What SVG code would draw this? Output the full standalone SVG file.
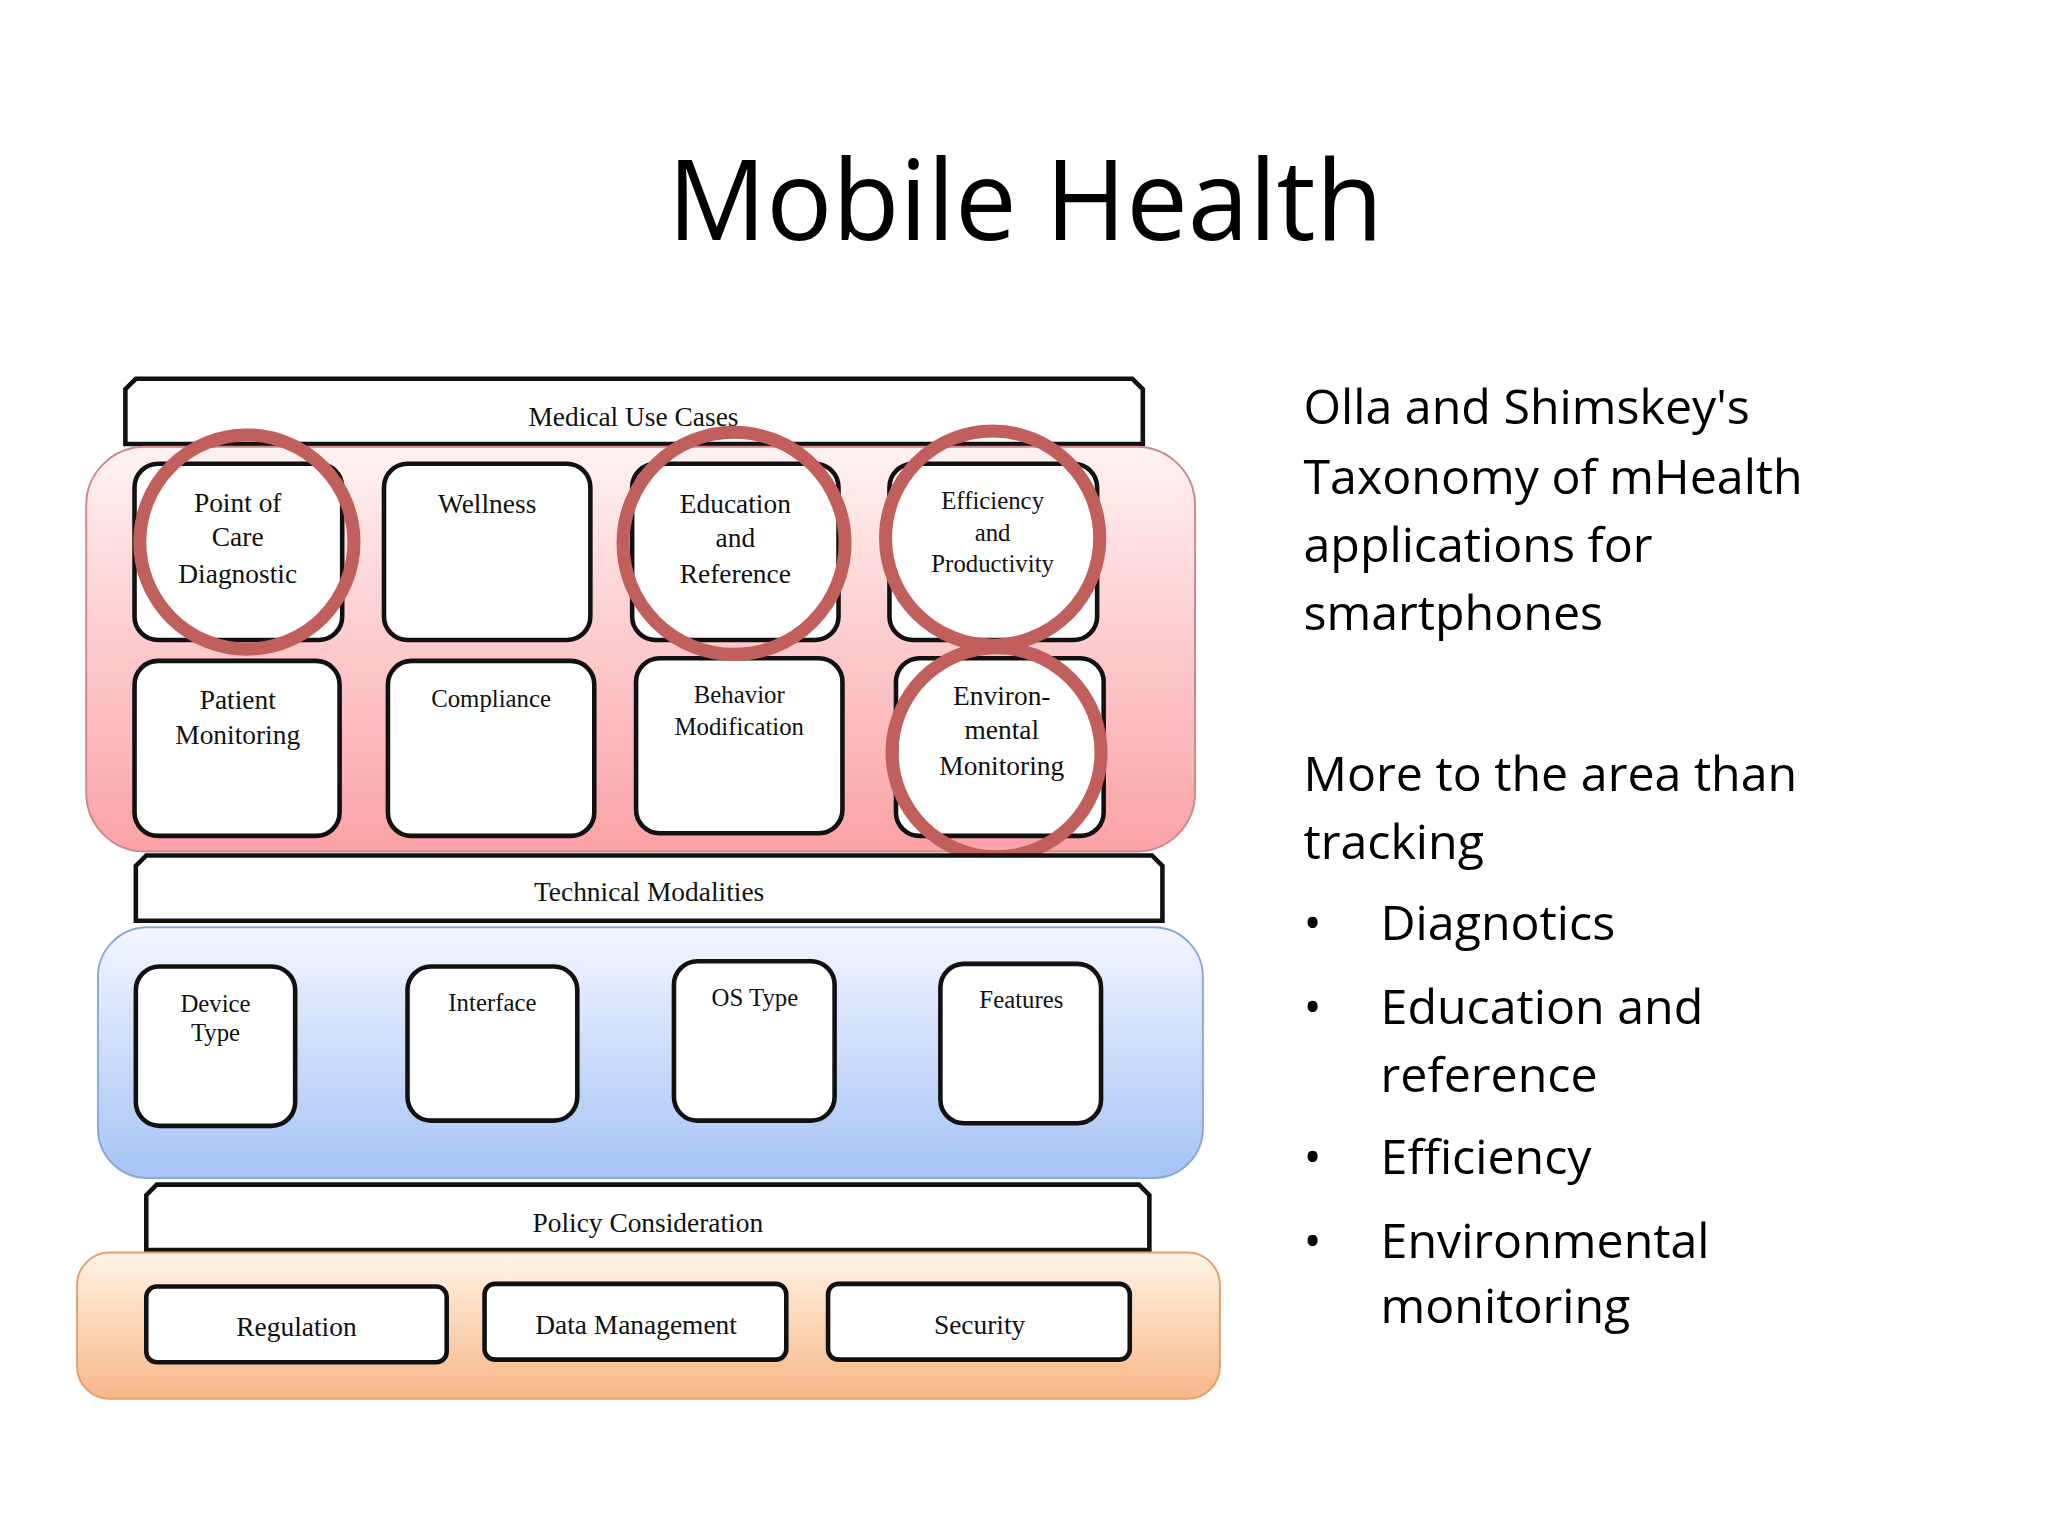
<svg xmlns="http://www.w3.org/2000/svg" width="2048" height="1536" viewBox="0 0 2048 1536">
<defs>
<linearGradient id="gp" x1="0" y1="0" x2="0" y2="1"><stop offset="0" stop-color="#fff2f2"/><stop offset="1" stop-color="#fba2a6"/></linearGradient>
<linearGradient id="gb" x1="0" y1="0" x2="0" y2="1"><stop offset="0" stop-color="#f2f6ff"/><stop offset="1" stop-color="#a6c3f6"/></linearGradient>
<linearGradient id="go" x1="0" y1="0" x2="0" y2="1"><stop offset="0" stop-color="#fff3e6"/><stop offset="1" stop-color="#f8b787"/></linearGradient>
</defs>
<style>
.b{fill:#fff;stroke:#111;stroke-width:3.5}
.h{fill:#fff;stroke:#111;stroke-width:3.5}
.c{fill:none;stroke:#c15f5d;stroke-width:10}
.t{font-family:"Liberation Serif",serif;font-size:21px;fill:#111;text-anchor:middle}
.s{font-family:"Liberation Serif",serif;font-size:19px;fill:#111;text-anchor:middle}
.r{font-family:"Open Sans","Liberation Sans",sans-serif;font-size:37px;fill:#000}
</style>
<rect width="2048" height="1536" fill="#fff"/>
<g transform="scale(1.3061)">
<text x="785" y="184" font-family="Open Sans,Liberation Sans,sans-serif" font-size="86" text-anchor="middle" textLength="548" lengthAdjust="spacingAndGlyphs">Mobile Health</text>
<g id="text-right" class="r">
<text x="998" y="325">Olla and Shimskey's</text>
<text x="998" y="378">Taxonomy of mHealth</text>
<text x="998" y="430">applications for</text>
<text x="998" y="482">smartphones</text>
<text x="998" y="606">More to the area than</text>
<text x="998" y="658">tracking</text>
<text x="998" y="720">•</text><text x="1057" y="720">Diagnotics</text>
<text x="998" y="784">•</text><text x="1057" y="784">Education and</text>
<text x="1057" y="836">reference</text>
<text x="998" y="899">•</text><text x="1057" y="899">Efficiency</text>
<text x="998" y="963">•</text><text x="1057" y="963">Environmental</text>
<text x="1057" y="1013">monitoring</text>
</g>
<g id="medical">
<path class="h" d="M104,290 H867 L875,298 V340 H96 V298 Z"/>
<text class="t" x="485" y="326">Medical Use Cases</text>
<rect x="66" y="342" width="849" height="310" rx="45" fill="url(#gp)" stroke="#c98a8c" stroke-width="1.5"/>
<rect class="b" x="103" y="355" width="159" height="135" rx="18"/>
<rect class="b" x="294" y="355" width="158" height="135" rx="18"/>
<rect class="b" x="484" y="355" width="158" height="135" rx="18"/>
<rect class="b" x="681" y="355" width="159" height="135" rx="18"/>
<rect class="b" x="103" y="506" width="157" height="134" rx="18"/>
<rect class="b" x="297" y="506" width="158" height="134" rx="18"/>
<rect class="b" x="487" y="504" width="158" height="134" rx="18"/>
<rect class="b" x="686" y="504" width="159" height="136" rx="18"/>
<text class="t" x="182" y="392">Point of</text><text class="t" x="182" y="418">Care</text><text class="t" x="182" y="446">Diagnostic</text>
<text class="t" x="373" y="393">Wellness</text>
<text class="t" x="563" y="393">Education</text><text class="t" x="563" y="419">and</text><text class="t" x="563" y="446">Reference</text>
<text class="s" x="760" y="390">Efficiency</text><text class="s" x="760" y="414">and</text><text class="s" x="760" y="438">Productivity</text>
<text class="t" x="182" y="543">Patient</text><text class="t" x="182" y="570">Monitoring</text>
<text class="s" x="376" y="541">Compliance</text>
<text class="s" x="566" y="538">Behavior</text><text class="s" x="566" y="563">Modification</text>
<text class="t" x="767" y="540">Environ-</text><text class="t" x="767" y="566">mental</text><text class="t" x="767" y="593">Monitoring</text>
<circle class="c" cx="189" cy="415" r="82"/>
<circle class="c" cx="562" cy="416" r="85"/>
<circle class="c" cx="760" cy="412" r="82"/>
<circle class="c" cx="763" cy="576" r="80"/>
</g>
<g id="technical">
<path class="h" d="M112,655 H882 L890,663 V705 H104 V663 Z"/>
<text class="t" x="497" y="690">Technical Modalities</text>
<rect x="75" y="710" width="846" height="192" rx="38" fill="url(#gb)" stroke="#8aa8d8" stroke-width="1.5"/>
<rect class="b" x="104" y="740" width="122" height="122" rx="18"/>
<rect class="b" x="312" y="740" width="130" height="118" rx="18"/>
<rect class="b" x="516" y="736" width="123" height="122" rx="18"/>
<rect class="b" x="720" y="738" width="123" height="122" rx="18"/>
<text class="s" x="165" y="775">Device</text><text class="s" x="165" y="797">Type</text>
<text class="s" x="377" y="774">Interface</text>
<text class="s" x="578" y="770">OS Type</text>
<text class="s" x="782" y="772">Features</text>
</g>
<g id="policy">
<path class="h" d="M120,907 H872 L880,915 V957 H112 V915 Z"/>
<text class="t" x="496" y="943">Policy Consideration</text>
<rect x="59" y="959" width="875" height="112" rx="25" fill="url(#go)" stroke="#e0a070" stroke-width="1.5"/>
<rect class="b" x="112" y="985" width="230" height="58" rx="8"/>
<rect class="b" x="371" y="983" width="231" height="58" rx="8"/>
<rect class="b" x="634" y="983" width="231" height="58" rx="8"/>
<text class="t" x="227" y="1023">Regulation</text>
<text class="t" x="487" y="1021">Data Management</text>
<text class="t" x="750" y="1021">Security</text>
</g>
</g>
</svg>
